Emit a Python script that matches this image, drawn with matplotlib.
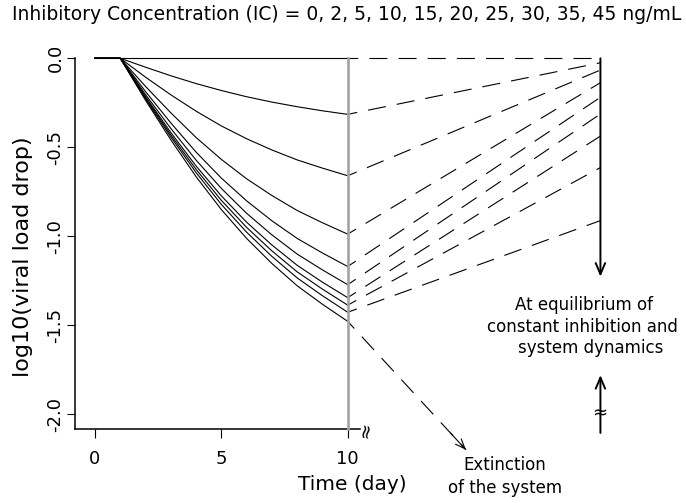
import matplotlib
matplotlib.use('Agg')
import matplotlib.pyplot as plt

plt.rcParams['font.family'] = 'DejaVu Sans'
plt.rcParams['lines.scale_dashes'] = False

# time axis (days) and inhibitory concentrations (ng/mL)
days = [0, 1, 2, 3, 4, 5, 6, 7, 8, 9, 10]
ic_levels = [0, 2, 5, 10, 15, 20, 25, 30, 35, 45]

# log10 viral load drop, one list per IC
drop_ic0 = [0, 0, 0, 0, 0, 0, 0, 0, 0, 0, 0]
drop_ic2 = [0, 0, -0.050, -0.098, -0.142, -0.181, -0.216, -0.246, -0.272, -0.295, -0.315]
drop_ic5 = [0, 0, -0.106, -0.205, -0.297, -0.380, -0.452, -0.515, -0.571, -0.617, -0.660]
drop_ic10 = [0, 0, -0.158, -0.306, -0.445, -0.568, -0.677, -0.771, -0.855, -0.924, -0.988]
drop_ic15 = [0, 0, -0.187, -0.363, -0.527, -0.673, -0.801, -0.913, -1.012, -1.094, -1.170]
drop_ic20 = [0, 0, -0.204, -0.394, -0.572, -0.731, -0.871, -0.992, -1.100, -1.189, -1.272]
drop_ic25 = [0, 0, -0.215, -0.417, -0.605, -0.773, -0.921, -1.049, -1.163, -1.258, -1.345]
drop_ic30 = [0, 0, -0.222, -0.430, -0.624, -0.798, -0.950, -1.082, -1.200, -1.297, -1.387]
drop_ic35 = [0, 0, -0.228, -0.442, -0.642, -0.821, -0.977, -1.113, -1.234, -1.334, -1.427]
drop_ic45 = [0, 0, -0.236, -0.458, -0.665, -0.850, -1.012, -1.153, -1.278, -1.382, -1.478]

# equilibrium levels reached at the far right (IC 45 goes extinct instead)
equilibrium = [0, -0.025, -0.066, -0.137, -0.219, -0.313, -0.437, -0.614, -0.912, None]
eq_day = 20
extinction_tip = (14.68, -2.20)

curves = [drop_ic0, drop_ic2, drop_ic5, drop_ic10, drop_ic15,
          drop_ic20, drop_ic25, drop_ic30, drop_ic35, drop_ic45]

dash = (6, (13, 8))

fig = plt.figure(figsize=(6.86, 5.03), dpi=100)
ax = fig.add_axes([0.1093, 0.1471, 0.8076, 0.737])
ax.set_xlim(-0.791, 21.13)
ax.set_ylim(-2.083, 0)

for vals, eq in zip(curves, equilibrium):
    ax.plot(days, vals, color='black', lw=0.8, clip_on=False, zorder=2)
    if eq is not None:
        ax.plot([days[-1], eq_day], [vals[-1], eq], color='black', lw=0.8,
                ls=dash, clip_on=False, zorder=2)

# extinction path for the highest IC
x0, y0 = days[-1], drop_ic45[-1]
xt, yt = extinction_tip
ax.plot([x0, xt], [y0, yt], color='black', lw=0.8, ls=dash, clip_on=False)
f_arrow = 0.87
ax.annotate('', xy=(xt, yt), xytext=(x0 + f_arrow * (xt - x0), y0 + f_arrow * (yt - y0)),
            arrowprops=dict(arrowstyle='->,head_length=0.7,head_width=0.28',
                            color='black', lw=0.8, shrinkA=0, shrinkB=0),
            annotation_clip=False)

# grey marker at day 10
ax.plot([10, 10], [0, -2.083], color='#a3a3a3', lw=1.9, clip_on=False, zorder=3)

# equilibrium arrows
ax.annotate('', xy=(eq_day, -1.227), xytext=(eq_day, 0),
            arrowprops=dict(arrowstyle='->,head_length=0.8,head_width=0.34',
                            color='black', lw=1.4, shrinkA=0, shrinkB=0),
            annotation_clip=False)
ax.annotate('', xy=(eq_day, -1.78), xytext=(eq_day, -2.105),
            arrowprops=dict(arrowstyle='->,head_length=0.8,head_width=0.34',
                            color='black', lw=1.4, shrinkA=0, shrinkB=0),
            annotation_clip=False)
ax.text(eq_day - 0.05, -1.994, '\u2248', ha='center', va='center', fontsize=13,
        clip_on=False)

ax.text(19.35, -1.386, 'At equilibrium of', ha='center', va='center', fontsize=12)
ax.text(19.3, -1.51, 'constant inhibition and', ha='center', va='center', fontsize=12)
ax.text(19.6, -1.627, 'system dynamics', ha='center', va='center', fontsize=12)
ax.text(16.22, -2.285, 'Extinction', ha='center', va='center', fontsize=12, clip_on=False)
ax.text(16.22, -2.414, 'of the system', ha='center', va='center', fontsize=12, clip_on=False)

# axes styling, R-like
for s in ['top', 'right']:
    ax.spines[s].set_visible(False)
ax.spines['left'].set_linewidth(1.1)
ax.spines['bottom'].set_linewidth(1.1)
ax.spines['bottom'].set_bounds(-0.791, 10.49)
ax.text(10.72, -2.088, '\u2248', rotation=80, ha='center', va='center', fontsize=14,
        clip_on=False)

ax.set_xticks([0, 5, 10])
ax.set_xticklabels(['0', '5', '10'], fontsize=13)
ax.set_yticks([0, -0.5, -1.0, -1.5, -2.0])
ax.set_yticklabels(['0.0', '-0.5', '-1.0', '-1.5', '-2.0'], fontsize=13,
                   rotation=90, va='center')
ax.tick_params(axis='x', length=6.3, width=0.8, pad=9)
ax.tick_params(axis='y', length=6, width=0.8, pad=1.5)

fig.text(0.5131, 0.0358, 'Time (day)', ha='center', va='center', fontsize=14.5)
fig.text(0.033, 0.49, 'log10(viral load drop)', ha='center', va='center',
         fontsize=16, rotation=90)
fig.text(0.505, 0.972, 'Inhibitory Concentration (IC) = 0, 2, 5, 10, 15, 20, 25, 30, 35, 45 ng/mL',
         ha='center', va='center', fontsize=13.5)

fig.savefig('out.png', dpi=100)
